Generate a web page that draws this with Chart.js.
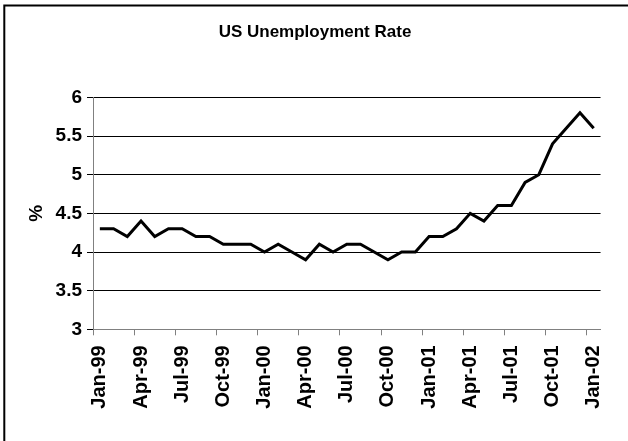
<!DOCTYPE html>
<html>
<head>
<meta charset="utf-8">
<script src="https://cdn.jsdelivr.net/npm/chart.js@4/dist/chart.umd.min.js"></script>
<style>
    html, body { margin: 0; padding: 0; background: #fff; }
    #wrap { width: 628px; height: 441px; }
</style>
</head>
<body>
<div id="wrap"><canvas id="rateChart" width="628" height="441"></canvas></div>
<script>
// monthly labels, Jan-99 .. Jan-02
const months = ['Jan', 'Feb', 'Mar', 'Apr', 'May', 'Jun', 'Jul', 'Aug', 'Sep', 'Oct', 'Nov', 'Dec'];
const years = ['99', '00', '01'];
const labels = [];
years.forEach(y => months.forEach(m => labels.push(m + '-' + y)));
labels.push('Jan-02');

const rate1999 = [4.3, 4.3, 4.2, 4.4, 4.2, 4.3, 4.3, 4.2, 4.2, 4.1, 4.1, 4.1];
const rate2000 = [4.0, 4.1, 4.0, 3.9, 4.1, 4.0, 4.1, 4.1, 4.0, 3.9, 4.0, 4.0];
const rate2001 = [4.2, 4.2, 4.3, 4.5, 4.4, 4.6, 4.6, 4.9, 5.0, 5.4, 5.6, 5.8];
const rate2002 = [5.6];
const rates = rate1999.concat(rate2000, rate2001, rate2002);

const yTicks = [3, 3.5, 4, 4.5, 5, 5.5, 6];

Chart.defaults.font.family = '"Liberation Sans", Arial, sans-serif';
Chart.defaults.color = '#000';

// outer frame of the chart (only left and top edges are inside the picture)
const framePlugin = {
    id: 'frame',
    afterDraw(chart) {
        const ctx = chart.ctx;
        ctx.save();
        ctx.strokeStyle = '#000';
        ctx.lineWidth = 2;
        ctx.strokeRect(4.3, 5.5, 700, 700);
        ctx.restore();
    }
};

const ctx = document.getElementById('rateChart').getContext('2d');
new Chart(ctx, {
    type: 'line',
    data: {
        labels: labels,
        datasets: [{
            label: 'US Unemployment Rate',
            data: rates,
            borderColor: '#000',
            borderWidth: 3,
            pointRadius: 0,
            tension: 0,
            fill: false
        }]
    },
    options: {
        responsive: false,
        animation: false,
        devicePixelRatio: 1,
        layout: {
            padding: { left: 25, right: 23, top: 0, bottom: 0 }
        },
        plugins: {
            legend: { display: false },
            tooltip: { enabled: false },
            title: {
                display: true,
                text: 'US Unemployment Rate',
                color: '#000',
                font: { size: 17, weight: 'bold' },
                padding: { top: 22, bottom: 55 }
            }
        },
        scales: {
            x: {
                type: 'category',
                offset: true,
                grid: {
                    offset: true,
                    drawOnChartArea: false,
                    drawTicks: true,
                    tickLength: 6,
                    color: (c) => (c.index % 3 === 0 ? '#808080' : 'rgba(0,0,0,0)')
                },
                border: { color: '#808080', width: 1 },
                ticks: {
                    autoSkip: false,
                    maxRotation: 90,
                    minRotation: 90,
                    padding: 10,
                    font: { size: 20, weight: 'bold' },
                    callback: (val, i) => (i % 3 === 0 ? labels[i] : '')
                },
                afterFit: (scale) => { scale.height = 111.7; }
            },
            y: {
                min: yTicks[0],
                max: yTicks[yTicks.length - 1],
                afterBuildTicks: (scale) => { scale.ticks = yTicks.map(v => ({ value: v })); },
                grid: {
                    color: '#000',
                    lineWidth: 1,
                    drawTicks: true,
                    tickLength: 6
                },
                border: { color: '#808080', width: 1 },
                ticks: {
                    padding: 5,
                    font: { size: 19, weight: 'bold' },
                    callback: (v) => String(v)
                },
                title: {
                    display: true,
                    text: '%',
                    font: { size: 19, weight: 'bold' },
                    padding: { top: 0, bottom: 0 }
                },
                afterFit: (scale) => { scale.width = 68; }
            }
        }
    },
    plugins: [framePlugin]
});
</script>
</body>
</html>
